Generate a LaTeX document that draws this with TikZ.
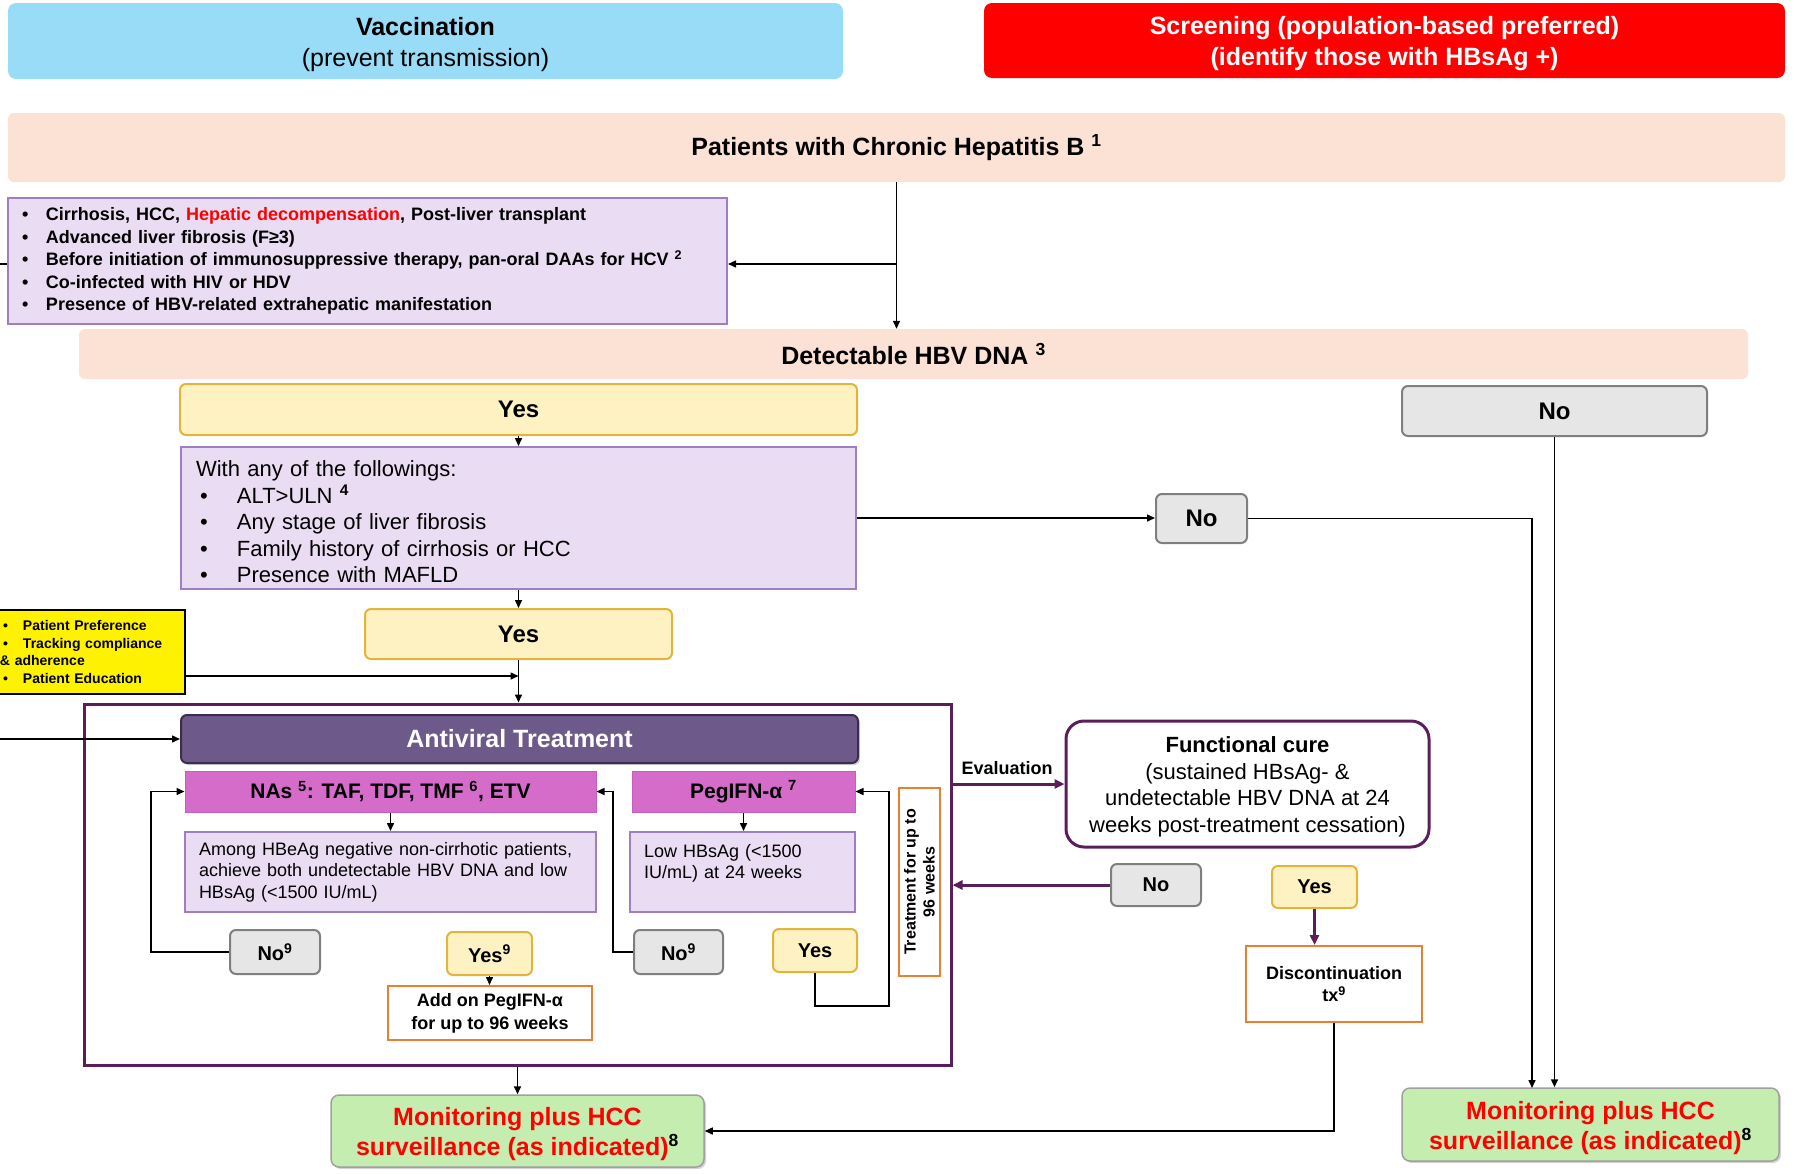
\documentclass[tikz,border=0pt]{standalone}
\usepackage{fontspec}
\setmainfont{Liberation Sans}
\usetikzlibrary{arrows.meta,shadows}
\definecolor{vaccblue}{HTML}{99DCF7}
\definecolor{scrred}{HTML}{FF0000}
\definecolor{peach}{HTML}{FBE2D5}
\definecolor{lavfill}{HTML}{EADCF2}
\definecolor{lavdraw}{HTML}{9E80C0}
\definecolor{yesfill}{HTML}{FFF2C2}
\definecolor{yesdraw}{HTML}{E2B43C}
\definecolor{nofill}{HTML}{E6E6E6}
\definecolor{nodraw}{HTML}{7F7F7F}
\definecolor{framepur}{HTML}{5A1E5A}
\definecolor{avtfill}{HTML}{6E5A8A}
\definecolor{avtdraw}{HTML}{3C2D50}
\definecolor{nasfill}{HTML}{D56CC9}
\definecolor{nasdraw}{HTML}{C45FBF}
\definecolor{orng}{HTML}{ED7D31}
\definecolor{monfill}{HTML}{C5EDB0}
\definecolor{mondraw}{HTML}{A0A0A0}
\newcommand{\fsz}[2]{\fontsize{#1pt}{#2pt}\selectfont}
\newcommand{\bul}[1]{\makebox[#1][l]{\textbullet}}
\begin{document}
\begin{tikzpicture}[x=1pt,y=-1pt,
  base/.style={inner sep=0pt, align=center},
  vaccbox/.style={base, fill=vaccblue, rounded corners=8pt},
  scrbox/.style={base, fill=scrred, text=white, rounded corners=8pt},
  peachbox/.style={base, fill=peach, rounded corners=6pt},
  lavbox/.style={base, fill=lavfill, draw=lavdraw, line width=2pt},
  yesbox/.style={base, fill=yesfill, draw=yesdraw, line width=2pt, rounded corners=6pt},
  nobox/.style={base, fill=nofill, draw=nodraw, line width=2pt, rounded corners=6pt},
  avtbox/.style={base, fill=avtfill, draw=avtdraw, line width=2pt, rounded corners=6pt, text=white,
    drop shadow={shadow xshift=2pt, shadow yshift=-2pt, opacity=0.35}},
  nasbox/.style={base, fill=nasfill, draw=nasdraw, line width=1pt},
  orbox/.style={base, fill=white, draw=orng, line width=2pt},
  monbox/.style={base, fill=monfill, draw=mondraw, line width=1.5pt, rounded corners=8pt, text=scrred,
    drop shadow={shadow xshift=2pt, shadow yshift=-2pt, opacity=0.35}},
  arr/.style={line width=1.5pt, -{Triangle[length=8pt,width=7pt]}},
  ln/.style={line width=1.5pt},
  parr/.style={line width=3pt, draw=framepur, -{Triangle[length=10pt,width=9pt]}}
]
\useasboundingbox (0,0) rectangle (1794,1173);

% top boxes
\node[vaccbox, minimum width=835pt, minimum height=76pt, font=\fsz{25}{31}] (vacc) at (425.5,41)
  {\rule{0pt}{26pt}\textbf{Vaccination}\\(prevent transmission)};
\node[scrbox, minimum width=801pt, minimum height=75pt, font=\fsz{25}{31}\bfseries] (scr) at (1384.5,40.5)
  {\rule{0pt}{24pt}Screening (population-based preferred)\\(identify those with HBsAg +)};
\node[peachbox, minimum width=1777pt, minimum height=69pt, font=\fsz{25}{30}\bfseries] (pat) at (896.5,147.5)
  {Patients with Chronic Hepatitis B \textsuperscript{1}};

% criteria 1
\node[lavbox, minimum width=719pt, minimum height=126pt, text width=691pt, align=left, font=\fsz{18}{22.5}\bfseries] (crit1) at (367.5,261)
  {\bul{24pt}Cirrhosis, HCC, \textcolor{scrred}{Hepatic decompensation}, Post-liver transplant\\
   \bul{24pt}Advanced liver fibrosis (F≥3)\\
   \bul{24pt}Before initiation of immunosuppressive therapy, pan-oral DAAs for HCV \textsuperscript{2}\\
   \bul{24pt}Co-infected with HIV or HDV\\
   \bul{24pt}Presence of HBV-related extrahepatic manifestation};

\node[peachbox, minimum width=1669pt, minimum height=50pt, font=\fsz{25}{30}\bfseries] (det) at (913.5,354)
  {Detectable HBV DNA \textsuperscript{3}};

\node[yesbox, minimum width=677pt, minimum height=51pt, font=\fsz{24}{28}\bfseries] (yes1) at (518.5,409.5) {Yes};
\node[nobox, minimum width=305pt, minimum height=50pt, font=\fsz{24}{28}\bfseries] (no1) at (1554.5,411) {No};

\node[lavbox, minimum width=675pt, minimum height=142pt, text width=645pt, align=left, font=\fsz{22}{26.5}] (crit2) at (518.5,518)
  {\rule{0pt}{24pt}With any of the followings:\\
   \hspace*{4pt}\bul{37pt}ALT>ULN \textsuperscript{\textbf{4}}\\
   \hspace*{4pt}\bul{37pt}Any stage of liver fibrosis\\
   \hspace*{4pt}\bul{37pt}Family history of cirrhosis or HCC\\
   \hspace*{4pt}\bul{37pt}Presence with MAFLD};

\node[nobox, minimum width=91pt, minimum height=49pt, font=\fsz{24}{28}\bfseries] (no2) at (1201.5,518.5) {No};
\node[yesbox, minimum width=307pt, minimum height=50pt, font=\fsz{24}{28}\bfseries] (yes2) at (518.5,634) {Yes};

\node[base, fill=yellow, draw=black, line width=1.5pt, minimum width=195pt, minimum height=84pt, text width=175pt, align=left, font=\fsz{14}{17.5}\bfseries] (ylw) at (87.5,652)
  {\hspace*{3pt}\bul{20pt}Patient Preference\\
   \hspace*{3pt}\bul{20pt}Tracking compliance\\
   \& adherence\\
   \hspace*{3pt}\bul{20pt}Patient Education};

% treatment frame
\node[base, draw=framepur, line width=3pt, minimum width=867pt, minimum height=361pt] (frame) at (517.5,884.5) {};
\node[avtbox, minimum width=677pt, minimum height=48pt, font=\fsz{25}{30}\bfseries] (avt) at (519.5,739) {Antiviral Treatment};
\node[nasbox, minimum width=411pt, minimum height=41pt, font=\fsz{21}{25}\bfseries] (nas) at (390.5,791.5)
  {NAs \textsuperscript{5}: TAF, TDF, TMF \textsuperscript{6}, ETV};
\node[nasbox, minimum width=223pt, minimum height=41pt, font=\fsz{21}{25}\bfseries] (peg) at (743.5,791.5)
  {PegIFN-α \textsuperscript{7}};
\node[lavbox, minimum width=411pt, minimum height=80pt, text width=383pt, align=left, font=\fsz{18}{21.5}] (among) at (390.5,872)
  {Among HBeAg negative non-cirrhotic patients,\\achieve both undetectable HBV DNA and low\\HBsAg (<1500 IU/mL)};
\node[lavbox, minimum width=225pt, minimum height=80pt, text width=197pt, align=left, font=\fsz{18}{21.5}] (low) at (742.5,872)
  {Low HBsAg (<1500\\IU/mL) at 24 weeks\\\mbox{}};
\node[orbox, rotate=90, minimum width=188pt, minimum height=41pt, font=\fsz{16}{19}\bfseries] (t96) at (919.5,882)
  {Treatment for up to\\96 weeks};

\node[nobox, minimum width=90pt, minimum height=44pt, font=\fsz{20}{24}\bfseries] (no9a) at (275,952) {No\textsuperscript{9}};
\node[yesbox, minimum width=85pt, minimum height=43pt, font=\fsz{20}{24}\bfseries] (yes9) at (489.5,953.5) {Yes\textsuperscript{9}};
\node[orbox, minimum width=204pt, minimum height=54pt, font=\fsz{18}{23}\bfseries] (addon) at (490,1013)
  {Add on PegIFN-α\\for up to 96 weeks};
\node[nobox, minimum width=89pt, minimum height=44pt, font=\fsz{20}{24}\bfseries] (no9b) at (678.5,952) {No\textsuperscript{9}};
\node[yesbox, minimum width=84pt, minimum height=43pt, font=\fsz{20}{24}\bfseries] (yesin) at (815,950.5) {Yes};

% right side
\node[base, draw=framepur, line width=3pt, rounded corners=18pt, minimum width=363pt, minimum height=126pt, font=\fsz{22}{26.5}] (func) at (1247.5,784)
  {\rule{0pt}{22pt}\textbf{Functional cure}\\(sustained HBsAg- \&\\undetectable HBV DNA at 24\\weeks post-treatment cessation)};
\node[base, font=\fsz{18}{22}\bfseries] (evl) at (1007,768) {Evaluation};
\node[nobox, minimum width=90pt, minimum height=42pt, font=\fsz{20}{24}\bfseries] (noe) at (1156,885) {No};
\node[yesbox, minimum width=85pt, minimum height=42pt, font=\fsz{20}{24}\bfseries] (yese) at (1314.5,887) {Yes};
\node[orbox, minimum width=176pt, minimum height=76pt, font=\fsz{18}{22}\bfseries] (disc) at (1334,984)
  {Discontinuation\\tx\textsuperscript{9}};

\node[monbox, minimum width=373pt, minimum height=72pt, font=\fsz{25}{30}\bfseries] (mon1) at (517.5,1131)
  {\rule{0pt}{25pt}Monitoring plus HCC\\surveillance (as indicated)\textsuperscript{\textcolor{black}{8}}};
\node[monbox, minimum width=377pt, minimum height=73pt, font=\fsz{25}{30}\bfseries] (mon2) at (1590.5,1124.5)
  {\rule{0pt}{25pt}Monitoring plus HCC\\surveillance (as indicated)\textsuperscript{\textcolor{black}{8}}};

% coordinates
\coordinate (br1) at (896.5,264);
\coordinate (lft1) at (0,264);
\coordinate (lft2) at (0,739);
\coordinate (ylwout) at (185,676);
\coordinate (m2a) at (1532,1088);

% connectors
\draw[arr] (pat.south) -- (pat.south |- det.north);
\draw[arr] (br1) -- (br1 -| crit1.east);
\draw[ln] (lft1) -- (lft1 -| crit1.west);
\draw[arr] (yes1.south) -- (crit2.north);
\draw[arr] (crit2.east) -- (crit2.east -| no2.west);
\draw[arr] (no2.east) -| (m2a);
\draw[arr] (no1.south) -- (no1.south |- mon2.north);
\draw[arr] (crit2.south) -- (yes2.north);
\draw[arr] (ylwout) -- (ylwout -| yes2.south);
\draw[arr] (yes2.south) -- (yes2.south |- frame.north);
\draw[arr] (lft2) -- (avt.west);
\draw[arr] (nas.south) -- (nas.south |- among.north);
\draw[arr] (peg.south) -- (peg.south |- low.north);
\draw[arr] (no9a.west) -- ++(-78,0) |- (nas.west);
\draw[arr] (no9b.west) -- ++(-20,0) |- (nas.east);
\draw[arr] (yesin.south) -- ++(0,33) -- ++(74,0) |- (peg.east);
\draw[arr] (yes9.south) -- (yes9.south |- addon.north);
\draw[parr] (func.west -| frame.east) -- (func.west);
\draw[parr] (noe.west) -- (noe.west -| frame.east);
\draw[parr] (yese.south) -- (yese.south |- disc.north);
\draw[arr] (disc.south) |- (mon1.east);
\draw[arr] (frame.south) -- (frame.south |- mon1.north);
\end{tikzpicture}
\end{document}
